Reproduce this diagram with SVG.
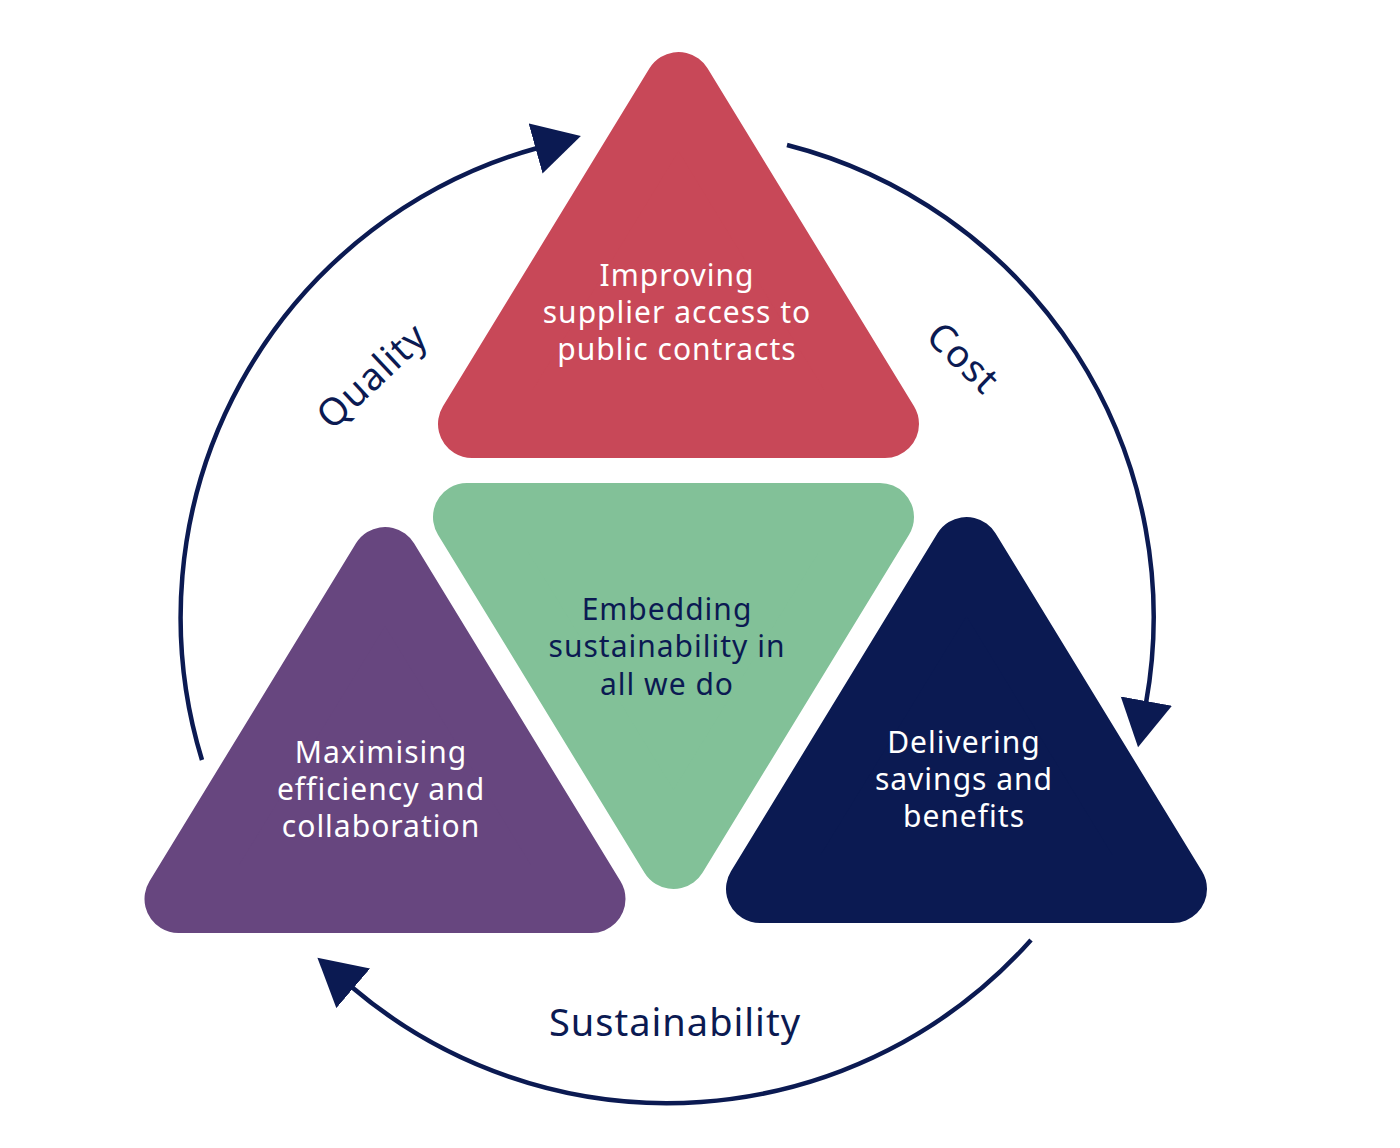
<svg xmlns="http://www.w3.org/2000/svg" xmlns:xlink="http://www.w3.org/1999/xlink" width="1400" height="1148" viewBox="0 0 1400 1148">
  <style>
    .tri { stroke-width: 68; stroke-linejoin: round; }
    .lbl { font-family: "Noto Sans", "DejaVu Sans", sans-serif; font-size: 30px; text-anchor: middle; letter-spacing: 1px; }
    .w { fill: #ffffff; }
    .d { fill: #0B1A52; }
    .axis { font-family: "Noto Sans", "DejaVu Sans", sans-serif; font-size: 38px; text-anchor: middle; fill: #0B1A52; letter-spacing: 1px; }
    .arc { fill: none; stroke: #0B1A52; stroke-width: 4.5; }
  </style>
  <defs>
    <polygon id="tri" points="0,-171 -206.5,167 206.5,167"/>
    <marker id="ah" markerUnits="userSpaceOnUse" markerWidth="50" markerHeight="54" refX="2" refY="26" orient="auto" viewBox="0 0 50 54">
      <polygon points="0,0 47,26 0,52" fill="#0B1A52"/>
    </marker>
  </defs>
  <rect width="1400" height="1148" fill="#ffffff"/>

  <g id="connectors">
    <path id="arc-quality" class="arc" d="M202,760 A487,487 0 0 1 537.5,148" marker-end="url(#ah)"/>
    <path id="arc-cost" class="arc" d="M787,145 A487,487 0 0 1 1146,703" marker-end="url(#ah)"/>
    <path id="arc-sustainability" class="arc" d="M1031,940 A487,487 0 0 1 351.7,987" marker-end="url(#ah)"/>
  </g>

  <g id="node-supplier">
    <use xlink:href="#tri" class="tri" fill="#C84858" stroke="#C84858" transform="translate(678.5,257)"/>
    <text class="lbl w" x="677" y="286">Improving</text>
    <text class="lbl w" x="677" y="323">supplier access to</text>
    <text class="lbl w" x="677" y="360">public contracts</text>
  </g>

  <g id="node-sustainability">
    <use xlink:href="#tri" class="tri" fill="#82C198" stroke="#82C198" transform="translate(673.5,684) scale(1,-1)"/>
    <text class="lbl d" x="667" y="620">Embedding</text>
    <text class="lbl d" x="667" y="657">sustainability in</text>
    <text class="lbl d" x="667" y="695">all we do</text>
  </g>

  <g id="node-efficiency">
    <use xlink:href="#tri" class="tri" fill="#67467F" stroke="#67467F" transform="translate(385,732)"/>
    <text class="lbl w" x="381" y="763">Maximising</text>
    <text class="lbl w" x="381" y="800">efficiency and</text>
    <text class="lbl w" x="381" y="837">collaboration</text>
  </g>

  <g id="node-savings">
    <use xlink:href="#tri" class="tri" fill="#0B1A52" stroke="#0B1A52" transform="translate(966.5,722)"/>
    <text class="lbl w" x="964" y="753">Delivering</text>
    <text class="lbl w" x="964" y="790">savings and</text>
    <text class="lbl w" x="964" y="827">benefits</text>
  </g>

  <g id="labels">
    <text class="axis" transform="translate(372,376) rotate(-43)" x="0" y="13">Quality</text>
    <text class="axis" transform="translate(963,358) rotate(44)" x="0" y="13">Cost</text>
    <text class="axis" x="675" y="1036">Sustainability</text>
  </g>
</svg>
